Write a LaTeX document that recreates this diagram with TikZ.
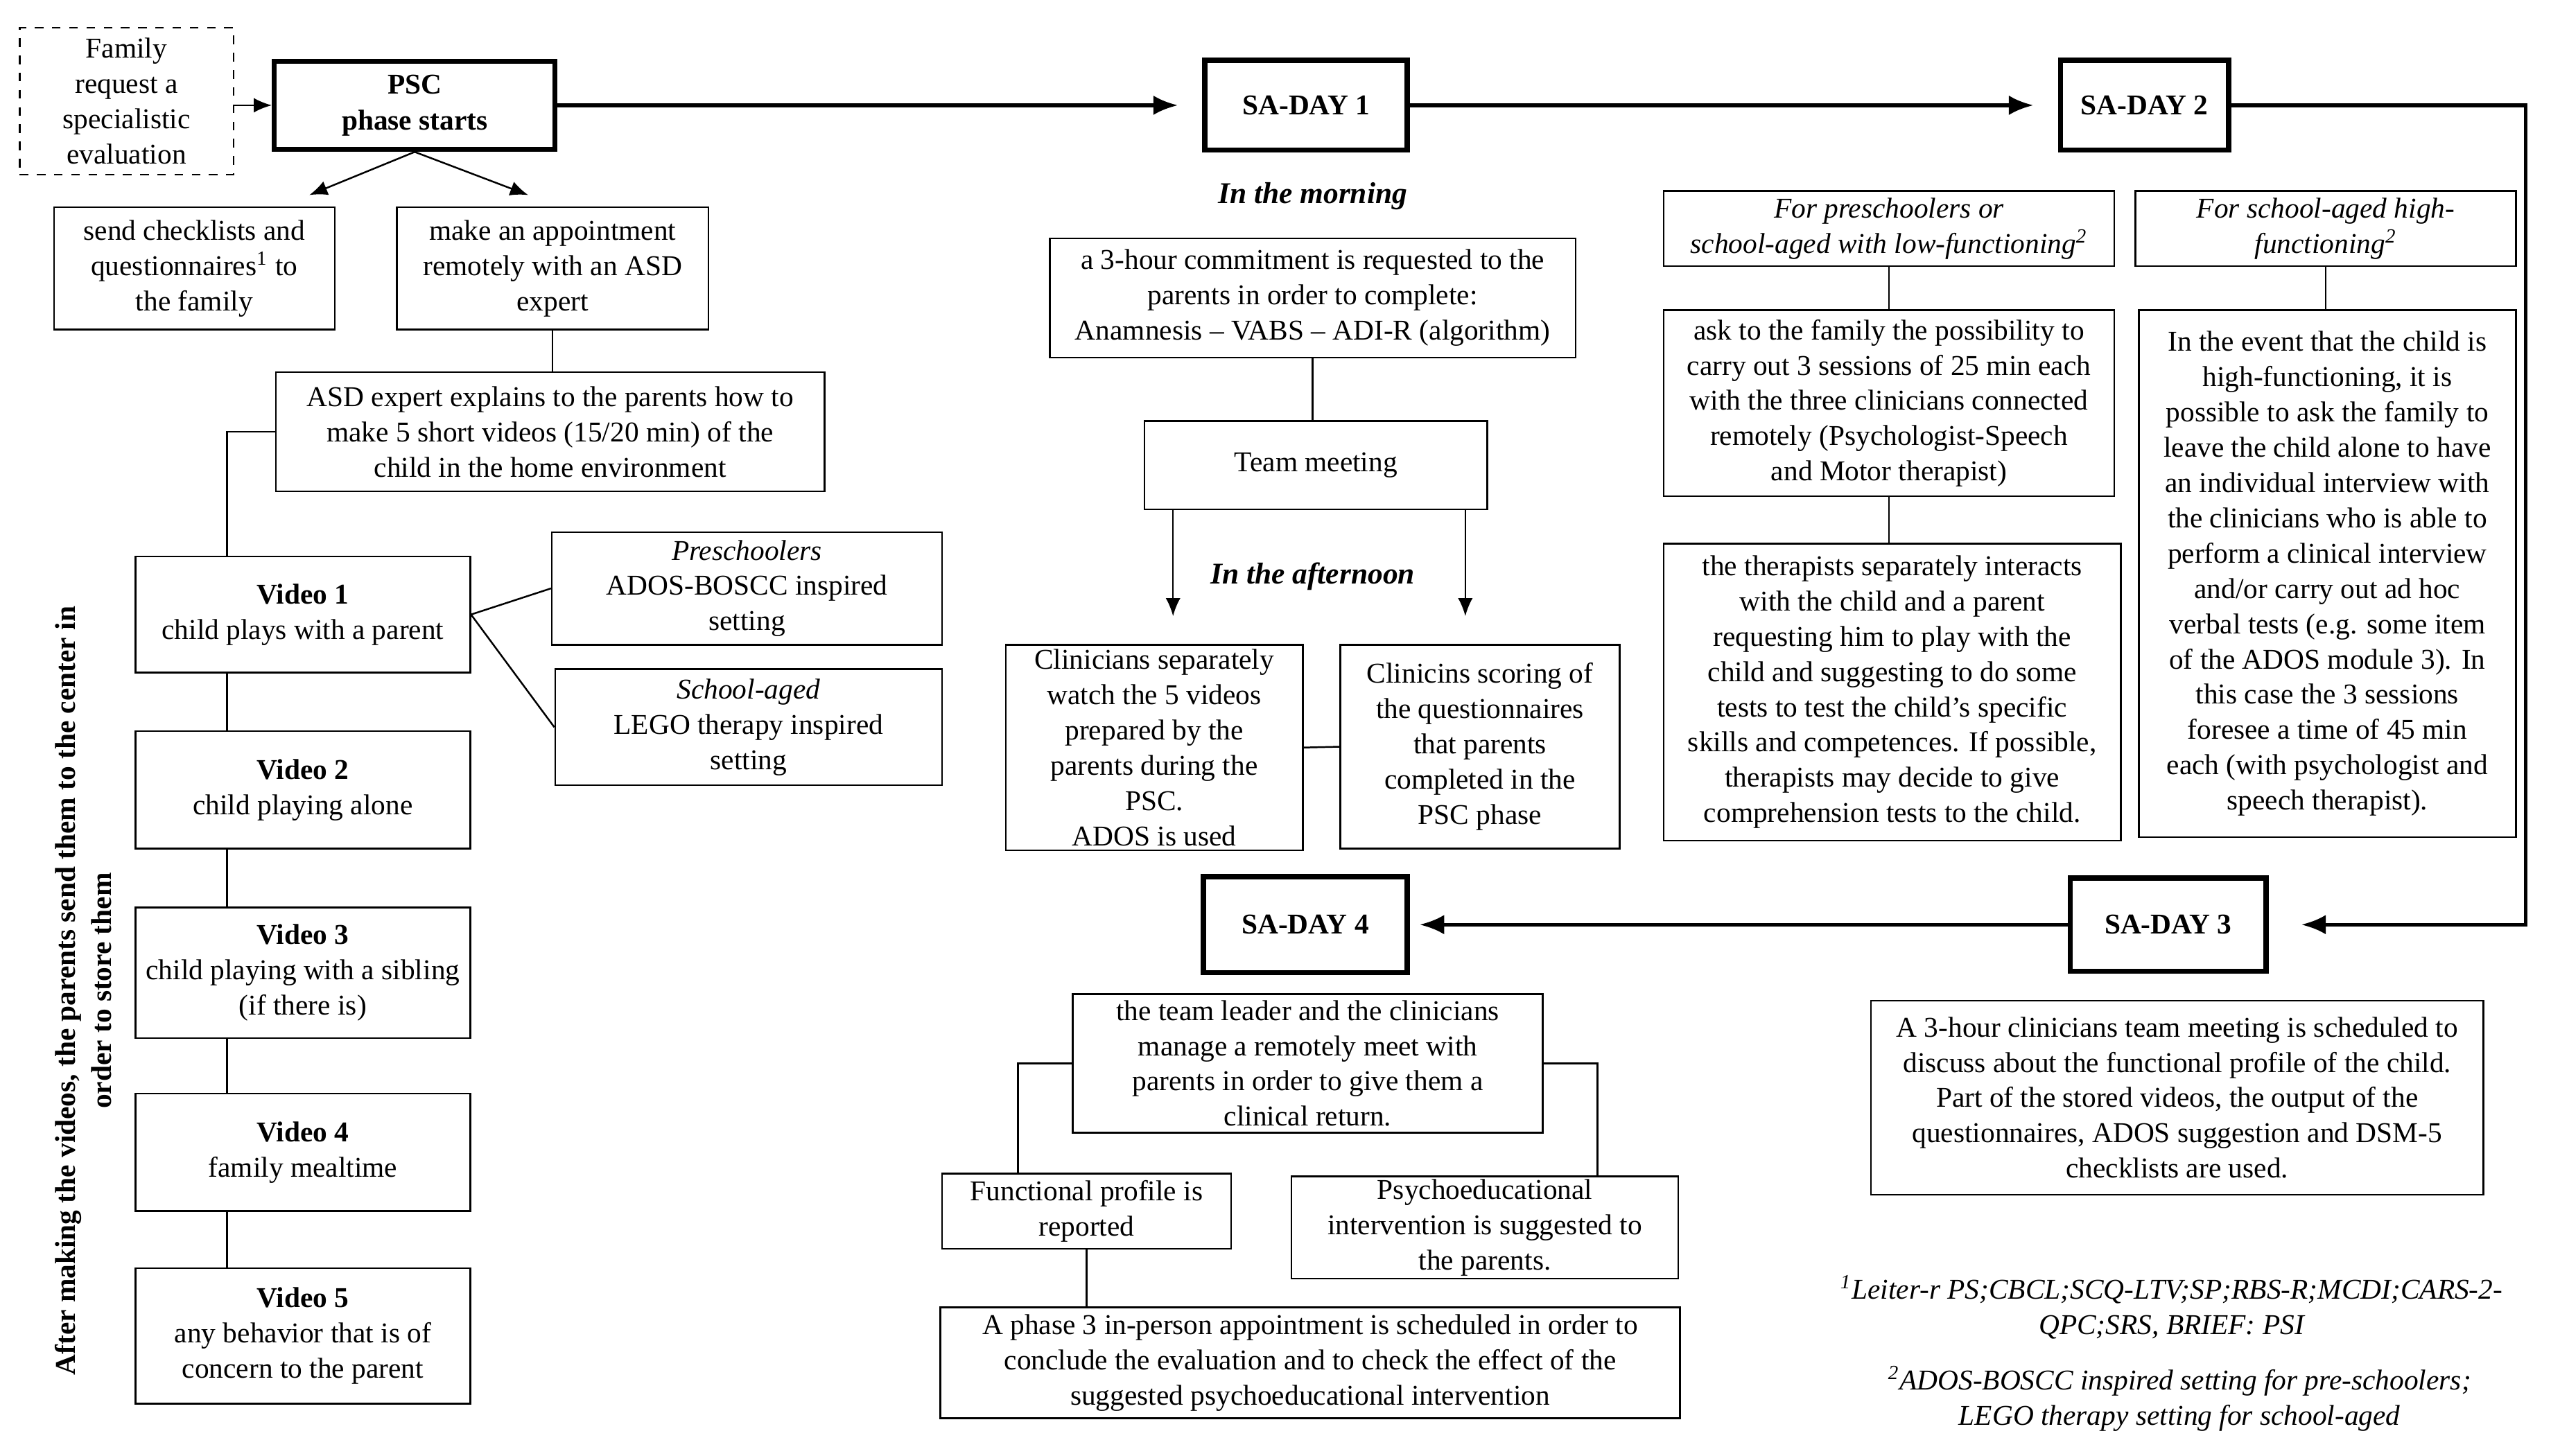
\documentclass[tikz,border=0pt]{standalone}
\usepackage{fontspec}
\setmainfont{Liberation Serif}
\usetikzlibrary{arrows.meta,calc,positioning}
\tikzset{
  box/.style       = {draw, line width=0.6pt, align=center, inner sep=1pt,
                      font=\fontsize{10}{12.3}\selectfont},
  daybox/.style    = {draw, line width=1.8pt, align=center, inner sep=1pt,
                      font=\bfseries\fontsize{10}{12.5}\selectfont},
  link/.style      = {line width=0.6pt},
  arrowline/.style = {-{Latex[length=2.2mm,width=1.8mm]}, line width=0.6pt},
  flow/.style      = {-{Latex[length=3mm,width=2.4mm]}, line width=1.3pt},
  timelabel/.style = {font=\bfseries\itshape\fontsize{10.5}{12}\selectfont},
  fnote/.style     = {align=center, font=\itshape\fontsize{10}{12.3}\selectfont},
}

\begin{document}
\begin{tikzpicture}[x=0.02cm,y=-0.02cm]
  \useasboundingbox (0,0) rectangle (1568,892);

  % psc phase
  \node[box,dashed,minimum width=2.62cm,minimum height=1.8cm] (fam) at (77.5,62)
       {Family\\request a\\specialistic\\evaluation};
  \node[daybox,minimum width=3.44cm,minimum height=1.08cm] (psc) at (254,64.5)
       {PSC\\phase starts};
  \node[box,minimum width=3.44cm,minimum height=1.5cm] (send) at (119,164.5)
       {send checklists and\\questionnaires\textsuperscript{1} to\\the family};
  \node[box,minimum width=3.82cm,minimum height=1.5cm] (appt) at (338.5,164.5)
       {make an appointment\\remotely with an ASD\\expert};
  \node[box,minimum width=6.72cm,minimum height=1.46cm] (asd) at (337,264.5)
       {ASD expert explains to the parents how to\\make 5 short videos (15/20 min) of the\\child in the home environment};

  % videos
  \node[box,minimum width=4.1cm,minimum height=1.42cm] (vid1) at (185.5,376.5)
       {\textbf{Video 1}\\child plays with a parent};
  \node[box,minimum width=4.1cm,minimum height=1.44cm] (vid2) at (185.5,484)
       {\textbf{Video 2}\\child playing alone};
  \node[box,minimum width=4.1cm,minimum height=1.6cm] (vid3) at (185.5,596)
       {\textbf{Video 3}\\child playing with a sibling\\(if there is)};
  \node[box,minimum width=4.1cm,minimum height=1.44cm] (vid4) at (185.5,706)
       {\textbf{Video 4}\\family mealtime};
  \node[box,minimum width=4.1cm,minimum height=1.66cm] (vid5) at (185.5,818.5)
       {\textbf{Video 5}\\any behavior that is of\\concern to the parent};
  \node[box,minimum width=4.78cm,minimum height=1.38cm] (pre) at (457.5,360.5)
       {\textit{Preschoolers}\\ADOS-BOSCC inspired\\setting};
  \node[box,minimum width=4.74cm,minimum height=1.42cm] (sch) at (458.5,445.5)
       {\textit{School-aged}\\LEGO therapy inspired\\setting};
  \node[rotate=90,align=center,font=\bfseries\fontsize{10}{12.5}\selectfont] (store) at (51,607)
       {After making the videos, the parents send them to the center in\\order to store them};

  % sa-day 1
  \node[daybox,minimum width=2.48cm,minimum height=1.1cm] (day1) at (800,64.5) {SA-DAY 1};
  \node[timelabel] (morning) at (804,120) {In the morning};
  \node[box,minimum width=6.44cm,minimum height=1.46cm] (commit) at (804,182.5)
       {a 3-hour commitment is requested to the\\parents in order to complete:\\Anamnesis -- VABS -- ADI-R (algorithm)};
  \node[box,minimum width=4.2cm,minimum height=1.08cm] (team) at (806,285) {Team meeting};
  \node[timelabel] (afternoon) at (804,353) {In the afternoon};
  \node[box,minimum width=3.64cm,minimum height=2.52cm,inner sep=0pt] (watch) at (707,458)
       {Clinicians separately\\watch the 5 videos\\prepared by the\\parents during the\\PSC.\\ADOS is used};
  \node[box,minimum width=3.42cm,minimum height=2.5cm] (score) at (906.5,457.5)
       {Clinicins scoring of\\the questionnaires\\that parents\\completed in the\\PSC phase};

  % sa-day 2
  \node[daybox,minimum width=2.06cm,minimum height=1.1cm] (day2) at (1313.5,64.5) {SA-DAY 2};
  \node[box,font=\itshape\fontsize{10}{12.3}\selectfont,minimum width=5.52cm,minimum height=0.92cm] (hdrL) at (1157,140)
       {For preschoolers or\\school-aged with low-functioning\textsuperscript{2}};
  \node[box,font=\itshape\fontsize{10}{12.3}\selectfont,minimum width=4.66cm,minimum height=0.92cm] (hdrR) at (1424.5,140)
       {For school-aged high-\\functioning\textsuperscript{2}};
  \node[box,minimum width=5.52cm,minimum height=2.28cm] (ask) at (1157,247)
       {ask to the family the possibility to\\carry out 3 sessions of 25 min each\\with the three clinicians connected\\remotely (Psychologist-Speech\\and Motor therapist)};
  \node[box,minimum width=5.6cm,minimum height=3.64cm] (ther) at (1159,424)
       {the therapists separately interacts\\with the child and a parent\\requesting him to play with the\\child and suggesting to do some\\tests to test the child's specific\\skills and competences. If possible,\\therapists may decide to give\\comprehension tests to the child.};
  \node[box,minimum width=4.62cm,minimum height=6.46cm] (event) at (1425.5,351.5)
       {In the event that the child is\\high-functioning, it is\\possible to ask the family to\\leave the child alone to have\\an individual interview with\\the clinicians who is able to\\perform a clinical interview\\and/or carry out ad hoc\\verbal tests (e.g. some item\\of the ADOS module 3). In\\this case the 3 sessions\\foresee a time of 45 min\\each (with psychologist and\\speech therapist).};

  % sa-day 3
  \node[daybox,minimum width=2.4cm,minimum height=1.14cm] (day3) at (1328,566.5) {SA-DAY 3};
  \node[box,minimum width=7.5cm,minimum height=2.38cm] (meet3) at (1333.5,672.5)
       {A 3-hour clinicians team meeting is scheduled to\\discuss about the functional profile of the child.\\Part of the stored videos, the output of the\\questionnaires, ADOS suggestion and DSM-5\\checklists are used.};
  \node[fnote] (fn1) at (1330,801)
       {\textsuperscript{1}Leiter-r PS;CBCL;SCQ-LTV;SP;RBS-R;MCDI;CARS-2-\\QPC;SRS, BRIEF: PSI};
  \node[fnote] (fn2) at (1335,857)
       {\textsuperscript{2}ADOS-BOSCC inspired setting for pre-schoolers;\\LEGO therapy setting for school-aged};

  % sa-day 4
  \node[daybox,minimum width=2.5cm,minimum height=1.18cm] (day4) at (799.5,566.5) {SA-DAY 4};
  \node[box,minimum width=5.76cm,minimum height=1.7cm] (leader) at (801,651.5)
       {the team leader and the clinicians\\manage a remotely meet with\\parents in order to give them a\\clinical return.};
  \node[box,minimum width=3.54cm,minimum height=0.92cm] (prof) at (665.5,742)
       {Functional profile is\\reported};
  \node[box,minimum width=4.74cm,minimum height=1.2cm] (psyed) at (909.5,752)
       {Psychoeducational\\intervention is suggested to\\the parents.};
  \node[box,minimum width=9.06cm,minimum height=1.36cm] (phase3) at (802.5,835)
       {A phase 3 in-person appointment is scheduled in order to\\conclude the evaluation and to check the effect of the\\suggested psychoeducational intervention};

  % main flow
  \draw[arrowline] (fam.east |- psc) -- (psc.west);
  \draw[flow,shorten >=3mm] (psc.east) -- (day1.west);
  \draw[flow,shorten >=3mm] (day1.east) -- (day2.west);
  \coordinate (bend) at (1547,64.5);
  \draw[flow,shorten >=4mm] (day2.east) -- (bend) |- (day3.east);
  \draw[flow,shorten >=1.2mm] (day3.west) -- (day4.east);

  % psc links
  \coordinate (sendtip) at ($(send.north east)+(-16,-7)$);
  \coordinate (appttip) at ($(appt.north)+(-15,-7)$);
  \draw[arrowline] (psc.south) -- (sendtip);
  \draw[arrowline] (psc.south) -- (appttip);
  \draw[link] (appt.south) -- (appt.south |- asd.north);
  \coordinate (spine) at (139,264.5);
  \draw[link] (asd.west) -- (spine) -- (spine |- vid1.north);
  \foreach \a/\b in {vid1/vid2,vid2/vid3,vid3/vid4,vid4/vid5}
    \draw[link] (spine |- \a.south) -- (spine |- \b.north);
  \draw[link] (vid1.east) -- (pre.west);
  \draw[link] (vid1.east) -- (sch.west);

  % day 1 links
  \draw[link] (commit.south) -- (commit.south |- team.north);
  \coordinate (teamL) at ($(team.south west)+(18,0)$);
  \coordinate (teamR) at ($(team.south east)+(-14,0)$);
  \draw[arrowline,shorten >=3.4mm] (teamL) -- (teamL |- watch.north);
  \draw[arrowline,shorten >=3.4mm] (teamR) -- (teamR |- score.north);
  \draw[link] (watch.east) -- (score.west);

  % day 2 links
  \draw[link] (hdrL.south) -- (ask.north);
  \draw[link] (ask.south) -- (ask.south |- ther.north);
  \draw[link] (hdrR.south) -- (hdrR.south |- event.north);

  % day 4 links
  \coordinate (profin) at ($(prof.north west)+(47,0)$);
  \coordinate (psyin) at ($(psyed.north west)+(188,0)$);
  \draw[link] (leader.west) -| (profin);
  \draw[link] (leader.east) -| (psyin);
  \draw[link] (prof.south) -- (prof.south |- phase3.north);
\end{tikzpicture}
\end{document}
